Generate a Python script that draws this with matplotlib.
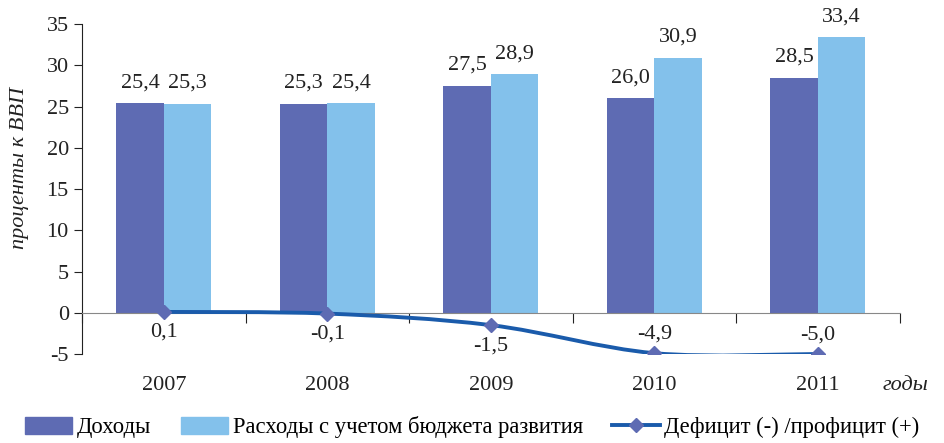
import matplotlib
matplotlib.use('Agg')
import matplotlib.pyplot as plt
import numpy as np
from matplotlib.path import Path
from matplotlib.patches import PathPatch
from matplotlib.lines import Line2D
from matplotlib.patches import Patch

plt.rcParams['font.family'] = ['Liberation Serif', 'DejaVu Serif']
plt.rcParams['axes.unicode_minus'] = False

# Data
years = ['2007', '2008', '2009', '2010', '2011']
revenue = [25.4, 25.3, 27.5, 26.0, 28.5]
expenses = [25.3, 25.4, 28.9, 30.9, 33.4]
balance = [0.1, -0.1, -1.5, -4.9, -5.0]

revenue_labels = ['25,4', '25,3', '27,5', '26,0', '28,5']
expenses_labels = ['25,3', '25,4', '28,9', '30,9', '33,4']
balance_labels = ['0,1', '-0,1', '-1,5', '-4,9', '-5,0']

dark = '#5E6BB3'
light = '#83C1EB'
line_col = '#1A5BAB'
txt = '#222222'
fs = 16

fig = plt.figure(figsize=(9.45, 4.43), dpi=100)
ax = fig.add_axes([0.0868, 0.2009, 0.952 - 0.0868, 0.9458 - 0.2009])

x = np.arange(len(years))
w = 0.29
ax.bar(x - w / 2, revenue, w, color=dark, zorder=2)
ax.bar(x + w / 2, expenses, w, color=light, zorder=2)

for i in range(len(years)):
    ax.annotate(revenue_labels[i], (x[i] - w / 2, revenue[i]), xytext=(0, 8),
                textcoords='offset points', ha='center', va='bottom', fontsize=fs, color=txt)
    ax.annotate(expenses_labels[i], (x[i] + w / 2, expenses[i]), xytext=(0, 8),
                textcoords='offset points', ha='center', va='bottom', fontsize=fs, color=txt)

# smoothed line (Bezier path through the data points)
pts = np.column_stack([x, balance]).astype(float)
verts = [tuple(pts[0])]
codes = [Path.MOVETO]
for i in range(len(pts) - 1):
    p0 = pts[i - 1] if i > 0 else pts[i]
    p1 = pts[i]
    p2 = pts[i + 1]
    p3 = pts[i + 2] if i + 2 < len(pts) else pts[i + 1]
    c1 = p1 + (p2 - p0) / 6
    c2 = p2 - (p3 - p1) / 6
    verts += [tuple(c1), tuple(c2), tuple(p2)]
    codes += [Path.CURVE4] * 3
ax.add_patch(PathPatch(Path(verts, codes), fill=False, edgecolor=line_col, lw=2.8, zorder=3,
                       capstyle='round'))
ax.plot(x, balance, linestyle='none', marker='D', markersize=7, color=dark, zorder=4)

for i in range(len(years)):
    if balance[i] > -3:
        off, va = -8, 'top'
    else:
        off, va = 7, 'bottom'
    ax.annotate(balance_labels[i], (x[i], balance[i]), xytext=(0, off),
                textcoords='offset points', ha='center', va=va, fontsize=fs, color=txt)

# axes
ax.set_xlim(-0.5, len(years) - 0.5)
ax.set_ylim(-5, 35)
ax.set_yticks(np.arange(-5, 36, 5))
ax.tick_params(axis='y', labelsize=fs, length=6, direction='out', colors=txt)
ax.spines['top'].set_visible(False)
ax.spines['right'].set_visible(False)
ax.spines['left'].set_color(txt)
ax.spines['bottom'].set_position(('data', 0))
ax.spines['bottom'].set_color('#888888')
ax.spines['bottom'].set_zorder(2.5)
ax.set_xticks(np.arange(-0.5, len(years), 1.0))
ax.set_xticklabels([])
ax.tick_params(axis='x', length=7, direction='out', colors=txt)

for i, yr in enumerate(years):
    ax.text(x[i], -0.094, yr, transform=ax.get_xaxis_transform(), ha='center', va='center',
            fontsize=fs, color=txt)

fig.text(905 / 945, 1 - 385 / 443, 'годы', ha='center', va='center', fontsize=fs,
         style='italic', color=txt)
fig.text(20 / 945, 1 - 168 / 443, 'проценты к ВВП', rotation=90, ha='center', va='center',
         fontsize=fs, style='italic', color=txt)

handles = [Patch(color=dark), Patch(color=light),
           Line2D([0], [0], color=line_col, lw=2.8, marker='D', markersize=7,
                  markerfacecolor=dark, markeredgecolor=dark)]
labels = ['Доходы', 'Расходы с учетом бюджета развития', 'Дефицит (-) /профицит (+)']
fig.legend(handles, labels, loc='lower left', bbox_to_anchor=(0.012, -0.02), ncol=3,
           frameon=False, fontsize=16.3, handlelength=2.1, handleheight=0.8,
           handletextpad=0.2, columnspacing=1.3, borderaxespad=0.2)

fig.savefig('out.png', dpi=100)
